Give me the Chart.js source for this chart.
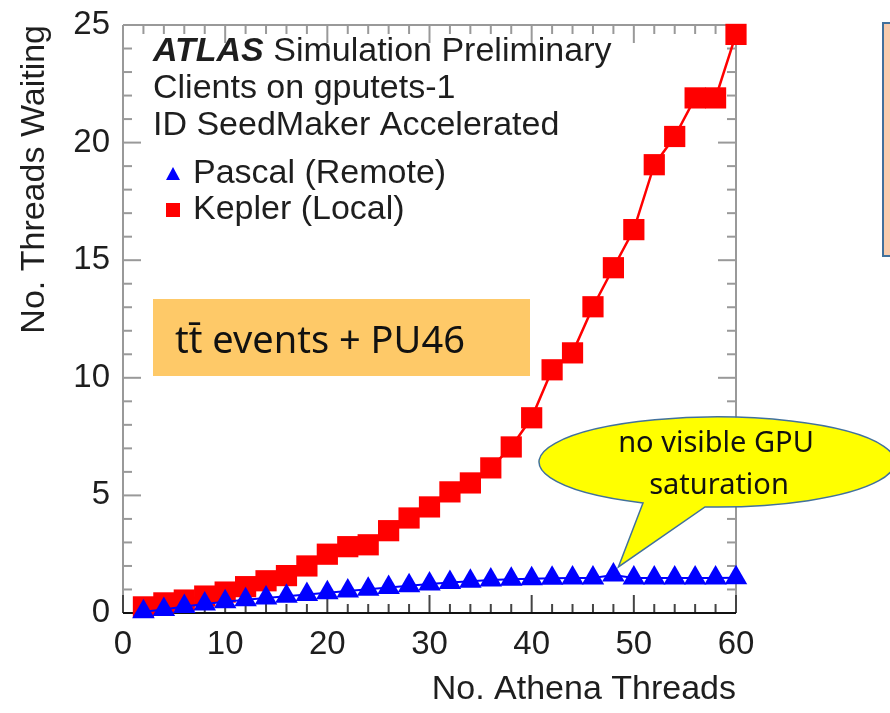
<!DOCTYPE html>
<html>
<head>
<meta charset="utf-8">
<script src="https://cdn.jsdelivr.net/npm/chart.js@4.4.0/dist/chart.umd.min.js"></script>
<style>
  html, body { margin: 0; padding: 0; background: #fff; }
</style>
</head>
<body>
<canvas id="chart" width="890" height="713"></canvas>
<script>
// values
const threads = [2, 4, 6, 8, 10, 12, 14, 16, 18, 20, 22, 24, 26, 28, 30,
                 32, 34, 36, 38, 40, 42, 44, 46, 48, 50, 52, 54, 56, 58, 60];
const pascal = [0.05, 0.15, 0.28, 0.38, 0.48, 0.56, 0.64, 0.71, 0.79, 0.86, 0.94, 1.01, 1.08, 1.16, 1.23,
                1.3, 1.35, 1.4, 1.43, 1.46, 1.48, 1.49, 1.49, 1.62, 1.49, 1.49, 1.49, 1.49, 1.49, 1.5];
const kepler = [0.26, 0.43, 0.55, 0.72, 0.89, 1.12, 1.37, 1.59, 2.0, 2.5, 2.82, 2.9, 3.5, 4.04, 4.51,
                5.15, 5.53, 6.17, 7.06, 8.3, 10.34, 11.06, 13.02, 14.68, 16.3, 19.06, 20.26, 21.9, 21.9, 24.6];
const xMin = 0, xMax = 60, xMajor = 10, xMinor = 2;
const yMin = 0, yMax = 25, yMajor = 5, yMinor = 1;
const seriesNames = ['Pascal (Remote)', 'Kepler (Local)'];
const headerLines = ['Clients on gputets-1', 'ID SeedMaker Accelerated'];

const FONT = "'Liberation Sans', Arial, sans-serif";
const TEXT = '#1e1e1e';

function seg(ctx, x1, y1, x2, y2) {
    ctx.beginPath();
    ctx.moveTo(x1, y1);
    ctx.lineTo(x2, y2);
    ctx.stroke();
}

// ROOT-style frame with inner ticks on all four sides
const framePlugin = {
    id: 'frame',
    beforeDatasetsDraw(chart) {
        const { ctx, chartArea: a, scales: { x, y } } = chart;
        ctx.save();
        ctx.lineWidth = 2;
        ctx.strokeStyle = '#999';
        seg(ctx, a.left, a.top, a.right, a.top);
        seg(ctx, a.left, a.top, a.left, a.bottom);
        seg(ctx, a.right, a.top, a.right, a.bottom);
        for (let v = xMin; v <= xMax; v += xMinor) {
            const px = x.getPixelForValue(v);
            const len = v % xMajor === 0 ? 18 : 9;
            ctx.strokeStyle = '#999';
            seg(ctx, px, a.top, px, a.top + len);
            ctx.strokeStyle = '#444';
            seg(ctx, px, a.bottom, px, a.bottom - len);
        }
        ctx.strokeStyle = '#999';
        for (let v = yMin; v <= yMax; v += yMinor) {
            const py = y.getPixelForValue(v);
            const len = v % yMajor === 0 ? 18 : 9;
            seg(ctx, a.left, py, a.left + len, py);
            seg(ctx, a.right, py, a.right - len, py);
        }
        ctx.strokeStyle = '#111';
        seg(ctx, a.left, a.bottom, a.right, a.bottom);
        ctx.restore();
    }
};

// header text, legend, and the slide annotations
const notesPlugin = {
    id: 'notes',
    afterDatasetsDraw(chart) {
        const { ctx, scales: { x, y } } = chart;
        ctx.save();
        ctx.textBaseline = 'middle';
        ctx.fillStyle = TEXT;

        ctx.font = 'italic bold 34px ' + FONT;
        ctx.fillText('ATLAS', 153, 52);
        const w = ctx.measureText('ATLAS ').width;
        ctx.font = '34px ' + FONT;
        ctx.fillText('Simulation Preliminary', 153 + w, 52);
        headerLines.forEach((t, i) => ctx.fillText(t, 153, 89 + i * 37));

        // legend
        ctx.fillStyle = '#0000ff';
        ctx.beginPath();
        ctx.moveTo(173, 167);
        ctx.lineTo(180, 180);
        ctx.lineTo(166, 180);
        ctx.closePath();
        ctx.fill();
        ctx.fillStyle = '#ff0000';
        ctx.fillRect(166, 203, 14, 14);
        ctx.fillStyle = TEXT;
        ctx.fillText(seriesNames[0], 193, 174);
        ctx.fillText(seriesNames[1], 193, 210);

        // orange label box
        ctx.fillStyle = '#fec968';
        ctx.fillRect(153, 299, 377, 77);
        ctx.fillStyle = '#111';
        ctx.font = "38px 'Noto Sans', 'Open Sans', sans-serif";
        ctx.textBaseline = 'alphabetic';
        ctx.fillText('t\u0074\u0304 events + PU46', 175, 353);

        // speech bubble pointing at the Pascal point at 48 threads
        const cx = 717, cy = 462, rx = 178, ry = 45;
        const tA = Math.acos((643 - cx) / rx);
        const tB = Math.acos((705 - cx) / rx);
        const tipX = x.getPixelForValue(threads[23]) + 5;
        const tipY = y.getPixelForValue(pascal[23]) - 8;
        ctx.beginPath();
        ctx.ellipse(cx, cy, rx, ry, 0, tA, tB + 2 * Math.PI);
        ctx.lineTo(tipX, tipY);
        ctx.closePath();
        ctx.fillStyle = '#ffff00';
        ctx.fill();
        ctx.lineWidth = 1.5;
        ctx.strokeStyle = '#41719c';
        ctx.stroke();
        ctx.fillStyle = '#111';
        ctx.font = "29px 'Noto Sans', 'Open Sans', sans-serif";
        ctx.textAlign = 'center';
        ctx.textBaseline = 'middle';
        ctx.fillText('no visible GPU', 716, 444);
        ctx.fillText('saturation', 719, 486);

        // edge of the neighbouring box on the slide
        ctx.fillStyle = '#f8cbad';
        ctx.fillRect(883, 23, 20, 233);
        ctx.lineWidth = 2;
        ctx.strokeStyle = '#41719c';
        ctx.strokeRect(883, 23, 20, 233);
        ctx.restore();
    }
};

new Chart(document.getElementById('chart'), {
    type: 'line',
    data: {
        datasets: [
            {
                label: seriesNames[0],
                data: threads.map((t, i) => ({ x: t, y: pascal[i] })),
                borderColor: '#0000ff',
                backgroundColor: '#0000ff',
                borderWidth: 2,
                pointStyle: 'triangle',
                pointRadius: 13,
                pointBorderWidth: 0,
                tension: 0,
                clip: false
            },
            {
                label: seriesNames[1],
                data: threads.map((t, i) => ({ x: t, y: kepler[i] })),
                borderColor: '#ff0000',
                backgroundColor: '#ff0000',
                borderWidth: 2.5,
                pointStyle: 'rect',
                pointRadius: 15,
                pointBorderWidth: 0,
                tension: 0,
                clip: false
            }
        ]
    },
    options: {
        responsive: false,
        animation: false,
        layout: { padding: { left: 0, right: 154, top: 25, bottom: 0 } },
        plugins: { legend: { display: false }, tooltip: { enabled: false } },
        scales: {
            x: {
                type: 'linear',
                min: xMin, max: xMax,
                grid: { display: false },
                border: { display: false },
                ticks: { stepSize: xMajor, padding: 4, color: TEXT, font: { family: FONT, size: 33 } },
                title: {
                    display: true, text: 'No. Athena Threads', align: 'end',
                    color: TEXT, font: { family: FONT, size: 34 }, padding: { top: 0, bottom: 3 }
                },
                afterFit(s) { s.height = 100; }
            },
            y: {
                min: yMin, max: yMax,
                grid: { display: false },
                border: { display: false },
                ticks: { stepSize: yMajor, padding: 5, color: TEXT, font: { family: FONT, size: 33 } },
                title: {
                    display: true, text: 'No. Threads Waiting', align: 'end',
                    color: TEXT, font: { family: FONT, size: 34 }, padding: { top: 14, bottom: 0 }
                },
                afterFit(s) { s.width = 123; }
            }
        }
    },
    plugins: [framePlugin, notesPlugin]
});
</script>
</body>
</html>
